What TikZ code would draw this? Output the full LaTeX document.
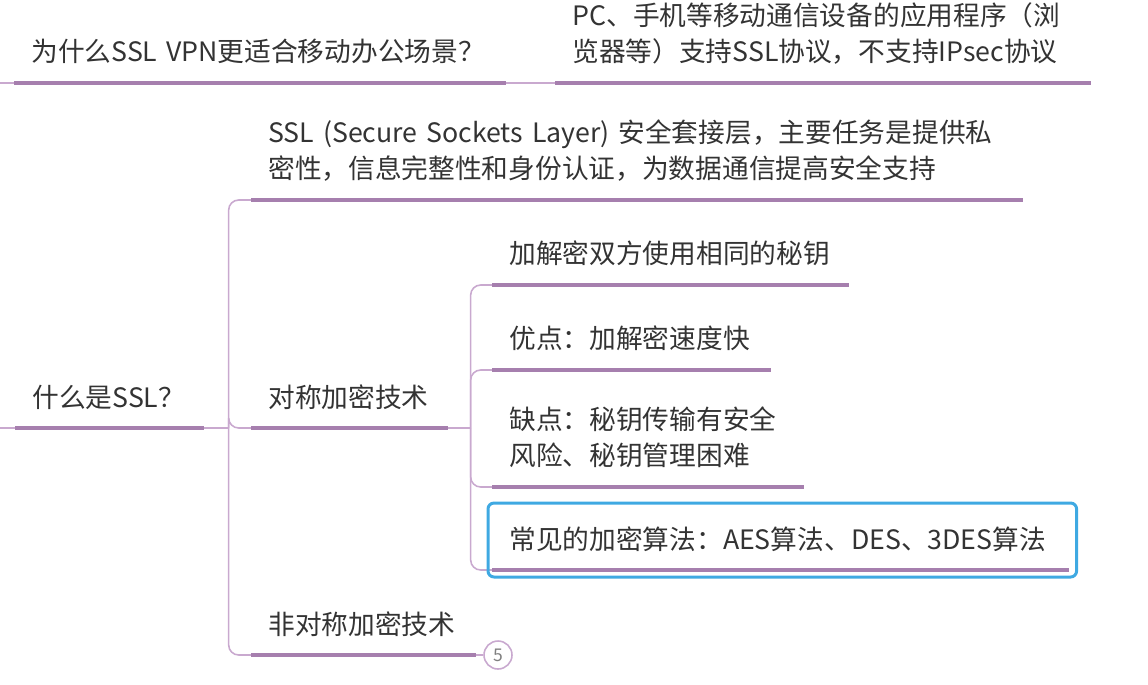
\documentclass[tikz,border=0pt]{standalone}
\usepackage{fontspec}
\setmainfont{Noto Sans CJK SC}
\usepackage{xcolor}
\usepackage{tikz}
\usetikzlibrary{positioning}
\definecolor{mmline}{HTML}{A67FAE}
\definecolor{mmthin}{HTML}{C9A9CF}
\definecolor{mmtext}{HTML}{333333}
\definecolor{mmsel}{HTML}{3FA9E2}

\begin{document}
\begin{tikzpicture}[x=0.02cm, y=-0.02cm,
    topic/.style={anchor=south west, align=left, text width=#1, inner xsep=0.34cm, inner ysep=0.37cm,
        text=mmtext, font=\fontsize{15.2}{20.5}\selectfont},
    uline/.style={mmline, line width=2.8pt},
    link/.style={mmthin, line width=0.9pt, rounded corners=0.2cm},
    selbox/.style={mmsel, line width=1.7pt, rounded corners=0.12cm},
    more/.style={circle, draw=mmthin, line width=0.9pt, minimum size=0.56cm, inner sep=0pt,
        text=gray, font=\fontsize{10}{10}\selectfont}]
    \useasboundingbox (0,0) rectangle (1148,684);

    \node[topic=9.14cm] (why) at (14,83) {为什么SSL VPN更适合移动办公场景？};
    \node[topic=10.02cm] (pc) at (555,83) {PC、手机等移动通信设备的应用程序（浏\\览器等）支持SSL协议，不支持IPsec协议};

    \node[topic=3.08cm] (what) at (15,428) {什么是SSL？};
    \node[topic=14.74cm] (ssl) at (251,200) {SSL (Secure Sockets Layer) 安全套接层，主要任务是提供私\\密性，信息完整性和身份认证，为数据通信提高安全支持};
    \node[topic=3.24cm] (sym) at (251,428) {对称加密技术};
    \node[topic=3.8cm] (asym) at (251,655) {非对称加密技术};

    \node[topic=6.44cm] (same) at (492,285) {加解密双方使用相同的秘钥};
    \node[topic=4.88cm] (pro) at (492,370) {优点：加解密速度快};
    \node[topic=5.54cm] (con) at (492,487) {缺点：秘钥传输有安全\\风险、秘钥管理困难};
    \node[topic=10.84cm] (algo) at (492,570) {常见的加密算法：AES算法、DES、3DES算法};

    \node[more] (cnt) at (498,655) {5};

    \coordinate (in1) at (0,83);
    \coordinate (in2) at (0,428);
    \draw[link] (in1) -- (why.south west);
    \draw[link] (why.south east) -- (pc.south west);
    \draw[link] (in2) -- (what.south west);
    \draw[link] (what.south east) -- ++(25,0) coordinate (j1);
    \foreach \c in {ssl,sym,asym}
        \draw[link] (j1) |- (\c.south west);
    \draw[link] (sym.south east) -- ++(23,0) coordinate (j2);
    \foreach \c in {same,pro,con,algo}
        \draw[link] (j2) |- (\c.south west);
    \draw[link] (asym.south east) -- (cnt);

    \foreach \n in {why,pc,what,ssl,sym,asym,same,pro,con,algo}
        \draw[uline] (\n.south west) -- (\n.south east);

    \draw[selbox] ([xshift=-0.08cm,yshift=-0.14cm]algo.south west) rectangle ([xshift=0.16cm,yshift=1.34cm]algo.south east);
\end{tikzpicture}
\end{document}
